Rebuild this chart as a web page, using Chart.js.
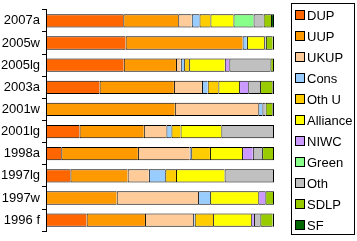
<!DOCTYPE html>
<html lang="en">
<head>
    <meta charset="UTF-8">
    <title>Vote share by election</title>
    <script src="https://cdnjs.cloudflare.com/ajax/libs/Chart.js/4.4.0/chart.umd.min.js"></script>
    <style>
        html, body { margin: 0; padding: 0; background: #fff; }
        #wrap { width: 357px; height: 241px; }
    </style>
</head>
<body>
    <div id="wrap"><canvas id="myChart" width="357" height="241"></canvas></div>

    <script>
// elections, top to bottom
var elections = ['2007a', '2005w', '2005lg', '2003a', '2001w', '2001lg', '1998a', '1997lg', '1997w', '1996 f'];

// party names and colours (legend order = stack order)
var parties = ['DUP', 'UUP', 'UKUP', 'Cons', 'Oth U', 'Alliance', 'NIWC', 'Green', 'Oth', 'SDLP', 'SF'];
var partyColors = ['#FF6600', '#FF9900', '#FFCC99', '#99CCFF', '#FFCC00', '#FFFF00',
                   '#CC99FF', '#88FF88', '#C0C0C0', '#99CC00', '#006600'];

// vote share (%) per party, one value per election
var DUP      = [33.9, 34.9, 34.1, 23.5,  0.0, 14.7,  6.7, 10.7,  0.0, 17.8];
var UUP      = [24.1, 51.3, 22.9, 32.6, 56.5, 28.2, 33.6, 25.1, 31.0, 25.6];
var UKUP     = [ 5.9,  0.0,  2.1, 12.3, 36.6,  9.9, 22.7,  9.3, 35.7, 21.1];
var Cons     = [ 3.4,  1.9,  1.5,  2.5,  1.8,  2.2,  0.7,  7.2,  5.3,  0.7];
var OthU     = [ 4.8,  0.0,  2.2,  4.7,  0.0,  4.0,  8.2,  4.7,  0.0,  8.1];
var Alliance = [10.1,  7.6, 15.6,  9.1,  0.0, 17.9, 14.1, 21.3, 21.1, 16.7];
var NIWC     = [ 0.0,  0.0,  2.0,  4.0,  0.0,  0.0,  4.7,  0.0,  3.1,  1.2];
var Green    = [ 8.8,  0.0,  0.0,  0.0,  0.0,  0.0,  0.0,  0.0,  0.0,  0.0];
var Oth      = [ 4.4,  0.7, 18.0,  5.2,  1.4, 23.1,  4.1, 21.7,  0.0,  2.8];
var SDLP     = [ 3.3,  3.0,  1.6,  5.4,  3.0,  0.0,  5.2,  0.0,  3.8,  5.4];
var SF       = [ 1.3,  0.6,  0.0,  0.7,  0.7,  0.0,  0.0,  0.0,  0.0,  0.6];

var shares = [DUP, UUP, UKUP, Cons, OthU, Alliance, NIWC, Green, Oth, SDLP, SF];

// is dataset i the last party with a segment in row j?
function isLast(i, j) {
    for (var k = i + 1; k < shares.length; k++) {
        if (shares[k][j] > 0) return false;
    }
    return true;
}

var datasets = parties.map(function(name, i) {
    return {
        label: name,
        // a party that did not stand gets no segment at all
        data: shares[i].map(function(v) { return v > 0 ? v : null; }),
        backgroundColor: partyColors[i],
        borderColor: '#000000',
        // one shared 1px line between neighbours, closed on the right end
        borderWidth: function(c) {
            return { top: 1, bottom: 1, left: 1, right: isLast(c.datasetIndex, c.dataIndex) ? 1 : 0 };
        },
        borderSkipped: false,
        barPercentage: 0.6,
        categoryPercentage: 1.0
    };
});

var FONT = 'Liberation Sans, Arial, sans-serif';

// boxed legend on the right, drawn by hand
var boxLegend = {
    id: 'boxLegend',
    afterDraw: function(chart) {
        var ctx = chart.ctx;
        ctx.save();
        ctx.strokeStyle = '#000';
        ctx.lineWidth = 1;
        ctx.strokeRect(291.5, 3.5, 63, 231);
        ctx.font = '13px ' + FONT;
        ctx.textBaseline = 'middle';
        chart.data.datasets.forEach(function(ds, i) {
            var y = 15 + i * 21;
            ctx.fillStyle = ds.backgroundColor;
            ctx.fillRect(296, y - 4, 8, 8);
            ctx.strokeStyle = '#000';
            ctx.strokeRect(295.5, y - 4.5, 9, 9);
            ctx.fillStyle = '#000';
            ctx.fillText(ds.label, 307, y + 1);
        });
        ctx.restore();
    }
};

var whiteBg = {
    id: 'whiteBg',
    beforeDraw: function(chart) {
        var ctx = chart.ctx;
        ctx.save();
        ctx.fillStyle = '#fff';
        ctx.fillRect(0, 0, chart.width, chart.height);
        ctx.restore();
    }
};

var ctx = document.getElementById('myChart').getContext('2d');
var myChart = new Chart(ctx, {
    type: 'bar',
    data: { labels: elections, datasets: datasets },
    options: {
        indexAxis: 'y',
        responsive: false,
        animation: false,
        devicePixelRatio: 1,
        layout: { padding: { top: 0, right: 83, bottom: 1, left: 0 } },
        plugins: {
            legend: { display: false },
            tooltip: { enabled: false }
        },
        scales: {
            x: {
                stacked: true,
                min: 0,
                max: 100,
                display: false
            },
            y: {
                stacked: true,
                afterFit: function(scale) { scale.width = 46; },
                border: { display: true, color: '#000', width: 1 },
                grid: {
                    offset: true,
                    drawOnChartArea: false,
                    drawTicks: true,
                    tickLength: 4,
                    color: '#000'
                },
                ticks: {
                    color: '#000',
                    padding: 2,
                    font: { family: FONT, size: 13 }
                }
            }
        }
    },
    plugins: [whiteBg, boxLegend]
});
    </script>
</body>
</html>
